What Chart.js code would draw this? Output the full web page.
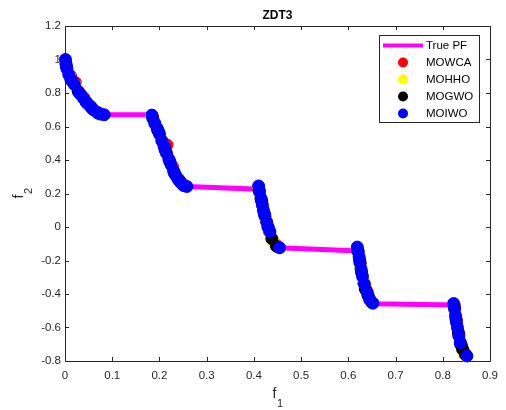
<!DOCTYPE html>
<html>

<head>
	<title>ZDT3</title>
	<meta charset="UTF-8">
	<script src="https://cdn.jsdelivr.net/npm/chart.js@4.4.1/dist/chart.umd.min.js"></script>
	<style>
		body { margin: 0; background: #fff; }
	</style>
</head>

<body>
	<canvas id="zdt3Chart" width="506" height="410"></canvas>

	<script>
		// tick labels
		var xTicks = [0, 0.1, 0.2, 0.3, 0.4, 0.5, 0.6, 0.7, 0.8, 0.9];
		var yTicks = [-0.8, -0.6, -0.4, -0.2, 0, 0.2, 0.4, 0.6, 0.8, 1, 1.2];

		// true pareto front
		var pfX = [0, 0.002, 0.005, 0.01, 0.015, 0.02, 0.03, 0.04, 0.05, 0.06, 0.07, 0.08, 0.083,
			0.1822, 0.185, 0.19, 0.2, 0.21, 0.22, 0.23, 0.24, 0.25, 0.2578,
			0.4105, 0.415, 0.42, 0.43, 0.44, 0.45, 0.4539,
			0.6195, 0.625, 0.63, 0.64, 0.65, 0.6525,
			0.8237, 0.825, 0.83, 0.835, 0.84, 0.845, 0.85, 0.8518];
		var pfY = [1, 0.955, 0.929, 0.897, 0.871, 0.847, 0.803, 0.762, 0.726, 0.698, 0.679, 0.670, 0.670,
			0.670, 0.654, 0.623, 0.553, 0.477, 0.402, 0.334, 0.282, 0.25, 0.242,
			0.226, 0.167, 0.105, -0.004, -0.082, -0.121, -0.124,
			-0.143, -0.233, -0.303, -0.409, -0.456, -0.458,
			-0.465, -0.492, -0.583, -0.658, -0.715, -0.754, -0.772, -0.773];

		// MOWCA
		var mowcaX = [0.001, 0.012, 0.022, 0.04, 0.055, 0.07,
			0.185, 0.196, 0.208, 0.216, 0.228, 0.24, 0.25,
			0.41, 0.417, 0.425, 0.433, 0.445,
			0.62, 0.625, 0.632, 0.638, 0.646,
			0.824, 0.829, 0.834, 0.84, 0.847];
		var mowcaY = [0.985, 0.9, 0.862, 0.77, 0.72, 0.682,
			0.66, 0.58, 0.5, 0.49, 0.36, 0.29, 0.255,
			0.23, 0.15, 0.05, -0.03, -0.1,
			-0.14, -0.22, -0.33, -0.38, -0.44,
			-0.47, -0.56, -0.64, -0.71, -0.76];

		// MOHHO
		var mohhoX = [0, 0.01, 0.022, 0.035, 0.048, 0.06, 0.075,
			0.183, 0.193, 0.204, 0.216, 0.226, 0.238, 0.248,
			0.41, 0.414, 0.42, 0.426, 0.434, 0.442, 0.45,
			0.619, 0.622, 0.626, 0.632, 0.64, 0.648,
			0.823, 0.826, 0.83, 0.836, 0.843, 0.85];
		var mohhoY = [0.99, 0.9, 0.845, 0.79, 0.74, 0.705, 0.675,
			0.665, 0.61, 0.53, 0.44, 0.37, 0.3, 0.258,
			0.235, 0.18, 0.11, 0.04, -0.04, -0.09, -0.12,
			-0.13, -0.17, -0.24, -0.32, -0.4, -0.445,
			-0.46, -0.51, -0.58, -0.67, -0.745, -0.77];

		// MOGWO
		var mogwoX = [0.003, 0.015, 0.028, 0.045, 0.056, 0.07,
			0.186, 0.198, 0.212, 0.222, 0.232, 0.243, 0.252,
			0.411, 0.416, 0.422, 0.43, 0.438, 0.448,
			0.62, 0.624, 0.628, 0.636, 0.642, 0.65,
			0.824, 0.828, 0.833, 0.838, 0.842, 0.848];
		var mogwoY = [0.96, 0.87, 0.81, 0.745, 0.712, 0.68,
			0.65, 0.57, 0.46, 0.39, 0.32, 0.275, 0.248,
			0.22, 0.16, 0.08, 0, -0.07, -0.115,
			-0.14, -0.2, -0.27, -0.37, -0.41, -0.45,
			-0.47, -0.55, -0.63, -0.7, -0.73, -0.76];

		// MOIWO
		var moiwoX = [0.001, 0.002, 0.004, 0.008, 0.012, 0.02, 0.03, 0.035, 0.04, 0.045, 0.05, 0.06, 0.068, 0.075, 0.083,
			0.184, 0.19, 0.195, 0.2, 0.205, 0.21, 0.215, 0.22, 0.225, 0.23, 0.235, 0.24, 0.245, 0.25, 0.258,
			0.41, 0.412, 0.415, 0.418, 0.42, 0.423, 0.427, 0.43, 0.434, 0.4545,
			0.619, 0.621, 0.623, 0.625, 0.627, 0.63, 0.634, 0.64, 0.645, 0.652,
			0.823, 0.825, 0.827, 0.829, 0.831, 0.834, 0.837, 0.851];
		var moiwoY = [1, 0.975, 0.945, 0.91, 0.885, 0.85, 0.8, 0.785, 0.765, 0.745, 0.73, 0.7, 0.685, 0.674, 0.67,
			0.668, 0.62, 0.59, 0.555, 0.515, 0.48, 0.44, 0.405, 0.37, 0.335, 0.305, 0.283, 0.265, 0.25, 0.242,
			0.245, 0.21, 0.17, 0.13, 0.1, 0.07, 0.03, 0, -0.028, -0.124,
			-0.12, -0.15, -0.18, -0.215, -0.25, -0.295, -0.34, -0.39, -0.43, -0.455,
			-0.457, -0.49, -0.53, -0.57, -0.6, -0.65, -0.69, -0.77];

		function toPoints(xs, ys) {
			var pts = [];
			for (var i = 0; i < xs.length; i++) {
				pts.push({ x: xs[i], y: ys[i] });
			}
			return pts;
		}

		function dotSet(label, xs, ys, color, order) {
			return {
				label: label, data: toPoints(xs, ys), backgroundColor: color, borderColor: color,
				borderWidth: 1, pointRadius: 6, pointHoverRadius: 6, order: order, clip: false
			};
		}

		var axisColor = '#262626';
		var fontName = '"Liberation Sans", Arial, Helvetica, sans-serif';

		// "f" with a lowered subscript, like matlab's f_1
		function drawSubLabel(ctx, main, sub) {
			ctx.font = '14px ' + fontName;
			var wm = ctx.measureText(main).width;
			ctx.font = '11px ' + fontName;
			var ws = ctx.measureText(sub).width;
			var x0 = -(wm + ws) / 2;
			ctx.textAlign = 'left';
			ctx.textBaseline = 'alphabetic';
			ctx.font = '14px ' + fontName;
			ctx.fillText(main, x0, 0);
			ctx.font = '11px ' + fontName;
			ctx.fillText(sub, x0 + wm + 0.5, 9);
		}

		// box, inward ticks, titles and legend in the matlab look
		var matlabLook = {
			id: 'matlabLook',
			beforeDatasetsDraw: function (chart) {
				var ctx = chart.ctx, a = chart.chartArea;
				var sx = chart.scales.x, sy = chart.scales.y;
				ctx.save();
				ctx.strokeStyle = axisColor;
				ctx.lineWidth = 1;
				ctx.beginPath();
				ctx.rect(Math.round(a.left) + 0.5, Math.round(a.top) + 0.5, Math.round(a.right - a.left), Math.round(a.bottom - a.top));
				xTicks.forEach(function (v) {
					var px = Math.round(sx.getPixelForValue(v)) + 0.5;
					ctx.moveTo(px, a.bottom); ctx.lineTo(px, a.bottom - 4);
					ctx.moveTo(px, a.top); ctx.lineTo(px, a.top + 4);
				});
				yTicks.forEach(function (v) {
					var py = Math.round(sy.getPixelForValue(v)) + 0.5;
					ctx.moveTo(a.left, py); ctx.lineTo(a.left + 4, py);
					ctx.moveTo(a.right, py); ctx.lineTo(a.right - 4, py);
				});
				ctx.stroke();
				ctx.restore();
			},
			afterDraw: function (chart) {
				var ctx = chart.ctx, a = chart.chartArea;
				var midX = (a.left + a.right) / 2, midY = (a.top + a.bottom) / 2;
				ctx.save();
				// title
				ctx.fillStyle = '#000';
				ctx.font = 'bold 12px ' + fontName;
				ctx.textAlign = 'center';
				ctx.textBaseline = 'middle';
				ctx.fillText('ZDT3', midX, 16);

				// axis titles
				ctx.fillStyle = axisColor;
				ctx.save();
				ctx.translate(midX, 398);
				drawSubLabel(ctx, 'f', '1');
				ctx.restore();
				ctx.save();
				ctx.translate(23, midY);
				ctx.rotate(-Math.PI / 2);
				drawSubLabel(ctx, 'f', '2');
				ctx.restore();

				// legend
				var bx = a.right - 111, by = a.top + 9, bw = 100, bh = 87;
				ctx.fillStyle = '#fff';
				ctx.fillRect(bx, by, bw, bh);
				ctx.strokeStyle = axisColor;
				ctx.lineWidth = 1;
				ctx.strokeRect(bx + 0.5, by + 0.5, bw, bh);
				ctx.font = '11.5px ' + fontName;
				ctx.textAlign = 'left';
				ctx.textBaseline = 'middle';
				chart.data.datasets.forEach(function (ds, i) {
					var ly = by + 10.5 + i * 17;
					if (ds.showLine) {
						ctx.strokeStyle = ds.borderColor;
						ctx.lineWidth = 4;
						ctx.beginPath();
						ctx.moveTo(bx + 4, ly); ctx.lineTo(bx + 44, ly);
						ctx.stroke();
					} else {
						ctx.fillStyle = ds.backgroundColor;
						ctx.beginPath();
						ctx.arc(bx + 24, ly, 5, 0, Math.PI * 2);
						ctx.fill();
					}
					ctx.fillStyle = '#000';
					ctx.fillText(ds.label, bx + 47, ly + 0.5);
				});
				ctx.restore();
			}
		};

		new Chart(document.getElementById('zdt3Chart'), {
			type: 'scatter',
			data: {
				datasets: [
					{
						label: 'True PF', data: toPoints(pfX, pfY), showLine: true, borderColor: '#ff00ff',
						backgroundColor: '#ff00ff', borderWidth: 5, pointRadius: 0, order: 5, clip: false
					},
					dotSet('MOWCA', mowcaX, mowcaY, '#ff0000', 4),
					dotSet('MOHHO', mohhoX, mohhoY, '#ffff00', 3),
					dotSet('MOGWO', mogwoX, mogwoY, '#000000', 2),
					dotSet('MOIWO', moiwoX, moiwoY, '#0000ff', 1)
				]
			},
			options: {
				responsive: false,
				animation: false,
				layout: { padding: { top: 26, right: 12, left: 0, bottom: 0 } },
				plugins: {
					legend: { display: false },
					tooltip: { enabled: false },
					title: { display: false }
				},
				scales: {
					x: {
						type: 'linear', min: 0, max: 0.9,
						afterBuildTicks: function (s) { s.ticks = xTicks.map(function (v) { return { value: v }; }); },
						afterFit: function (s) { s.height = 49; },
						grid: { display: false, drawTicks: false },
						border: { display: false },
						ticks: {
							padding: 8, color: axisColor, font: { family: fontName, size: 11.5 },
							callback: function (v) { return String(v); }
						}
					},
					y: {
						type: 'linear', min: -0.8, max: 1.2,
						afterBuildTicks: function (s) { s.ticks = yTicks.map(function (v) { return { value: v }; }); },
						afterFit: function (s) { s.width = 65; },
						grid: { display: false, drawTicks: false },
						border: { display: false },
						ticks: {
							padding: 4, color: axisColor, font: { family: fontName, size: 11.5 },
							callback: function (v) { return String(v); }
						}
					}
				}
			},
			plugins: [matlabLook]
		});
	</script>

</body>

</html>
